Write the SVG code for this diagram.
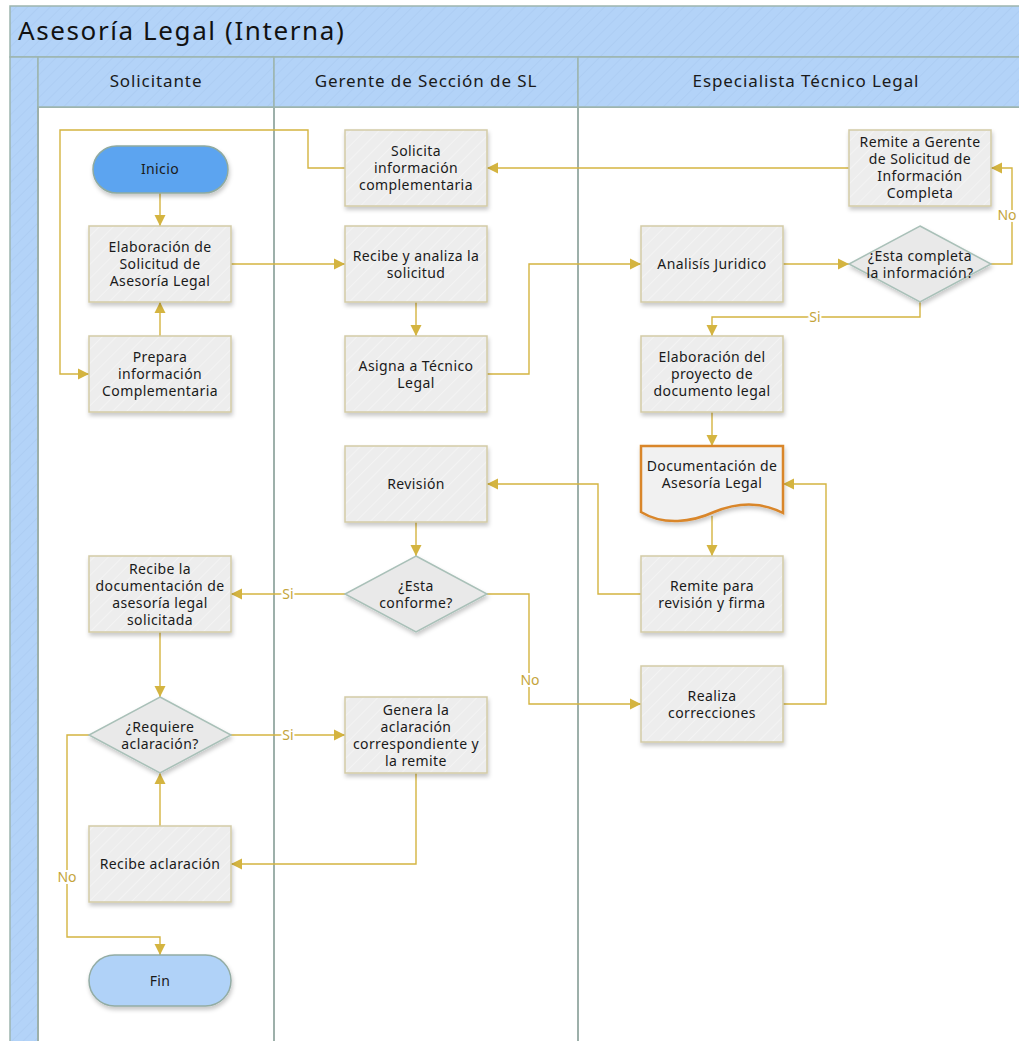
<svg xmlns="http://www.w3.org/2000/svg" width="1019" height="1041" viewBox="0 0 1019 1041">
<style>
.hdr{fill:url(#stripe);stroke:#9DB5AE;stroke-width:1.5}
.lane{fill:#FFFFFF;stroke:#9DB0AA;stroke-width:2}
.box{fill:url(#boxfill);stroke:#D3CBA6;stroke-width:1.5;filter:url(#sh)}
.dia{fill:#E9E9E9;stroke:#A9C0B8;stroke-width:1.5;filter:url(#sh)}
.t{font-family:"Noto Sans","Open Sans",sans-serif;font-size:14px;letter-spacing:0.4px;fill:#1A1A1A;text-anchor:middle}
.ht{font-family:"Noto Sans","Open Sans",sans-serif;font-size:17px;letter-spacing:0.9px;fill:#1A1A1A;text-anchor:middle}
.ttl{font-family:"Noto Sans","Open Sans",sans-serif;font-size:26px;letter-spacing:1.6px;fill:#111}
.ca{fill:none;stroke:#D4B440;stroke-width:1.4;marker-end:url(#ah)}
.lb{font-family:"Noto Sans","Open Sans",sans-serif;font-size:14px;fill:#C4A43A;text-anchor:middle;stroke:#FFFFFF;stroke-width:4px;paint-order:stroke}
</style>
<defs>
<pattern id="stripe" width="8" height="8" patternUnits="userSpaceOnUse" patternTransform="rotate(45)">
<rect width="8" height="8" fill="#B3D3F8"/>
<line x1="0" y1="0" x2="0" y2="8" stroke="#ABCCF2" stroke-width="1.5"/>
</pattern>
<pattern id="boxfill" width="10" height="10" patternUnits="userSpaceOnUse" patternTransform="rotate(45)">
<rect width="10" height="10" fill="#EDEDED"/>
<line x1="0" y1="0" x2="0" y2="10" stroke="#F3F3F3" stroke-width="2"/>
</pattern>
<filter id="sh" x="-10%" y="-10%" width="130%" height="140%">
<feDropShadow dx="1" dy="3" stdDeviation="2" flood-color="#000" flood-opacity="0.22"/>
</filter>
<marker id="ah" markerWidth="12" markerHeight="12" refX="11" refY="6" orient="auto" markerUnits="userSpaceOnUse">
<path d="M0,0.5 L11,6 L0,11.5 Z" fill="#D4B440"/>
</marker>
</defs>
<rect width="1019" height="1041" fill="#FFFFFF"/>
<g id="pool">
<rect class="hdr" x="10" y="6" width="1015" height="51"/>
<text class="ttl" x="18" y="40">Asesoría Legal (Interna)</text>
<rect class="hdr" x="10" y="57" width="28" height="990"/>
<rect class="lane" x="38" y="107" width="236" height="940"/>
<rect class="lane" x="274" y="107" width="304" height="940"/>
<rect class="lane" x="578" y="107" width="450" height="940"/>
<rect class="hdr" x="38" y="57" width="236" height="50"/>
<rect class="hdr" x="274" y="57" width="304" height="50"/>
<rect class="hdr" x="578" y="57" width="450" height="50"/>
<text class="ht" x="156" y="87">Solicitante</text>
<text class="ht" x="426" y="87">Gerente de Sección de SL</text>
<text class="ht" x="806" y="87">Especialista Técnico Legal</text>
</g>
<g id="connectors">
<path class="ca" d="M160,193 V226"/>
<path class="ca" d="M160,336 V302"/>
<path class="ca" d="M231,264 H345"/>
<path class="ca" d="M416,302 V336"/>
<path class="ca" d="M487,374 H529 V264 H641"/>
<path class="ca" d="M783,264 H849"/>
<path class="ca" d="M991,264 H1012 V168 H991"/>
<path class="ca" d="M920,302 V317 H712 V336"/>
<path class="ca" d="M849,168 H487"/>
<path class="ca" d="M345,168 H308 V130 H60 V374 H89"/>
<path class="ca" d="M712,412 V446"/>
<path class="ca" d="M712,516 V556"/>
<path class="ca" d="M641,594 H598 V484 H487"/>
<path class="ca" d="M416,522 V556"/>
<path class="ca" d="M345,594 H231"/>
<path class="ca" d="M487,594 H529 V704 H641"/>
<path class="ca" d="M783,704 H826 V484 H783"/>
<path class="ca" d="M160,632 V697"/>
<path class="ca" d="M231,735 H345"/>
<path class="ca" d="M416,773 V864 H231"/>
<path class="ca" d="M160,826 V773"/>
<path class="ca" d="M89,735 H67 V937 H160 V955"/>
<text class="lb" x="1007" y="220">No</text>
<text class="lb" x="815" y="322">Si</text>
<text class="lb" x="288" y="599">Si</text>
<text class="lb" x="530" y="685">No</text>
<text class="lb" x="288" y="740">Si</text>
<text class="lb" x="67" y="882">No</text>
</g>
<g id="inicio">
<rect x="93" y="146" width="135" height="47" rx="23.5" fill="#5CA4F0" stroke="#8FAAA0" stroke-width="1.5" filter="url(#sh)"/>
<text class="t" x="160" y="174">Inicio</text>
</g>
<g id="elaboracion-solicitud">
<rect class="box" x="89" y="226" width="142" height="76"/>
<text class="t" x="160" y="252">Elaboración de</text>
<text class="t" x="160" y="269">Solicitud de</text>
<text class="t" x="160" y="286">Asesoría Legal</text>
</g>
<g id="prepara-informacion">
<rect class="box" x="89" y="336" width="142" height="76"/>
<text class="t" x="160" y="362">Prepara</text>
<text class="t" x="160" y="379">información</text>
<text class="t" x="160" y="396">Complementaria</text>
</g>
<g id="solicita-informacion">
<rect class="box" x="345" y="130" width="142" height="76"/>
<text class="t" x="416" y="156">Solicita</text>
<text class="t" x="416" y="173">información</text>
<text class="t" x="416" y="190">complementaria</text>
</g>
<g id="recibe-analiza">
<rect class="box" x="345" y="226" width="142" height="76"/>
<text class="t" x="416" y="260.5">Recibe y analiza la</text>
<text class="t" x="416" y="277.5">solicitud</text>
</g>
<g id="asigna-tecnico">
<rect class="box" x="345" y="336" width="142" height="76"/>
<text class="t" x="416" y="370.5">Asigna a Técnico</text>
<text class="t" x="416" y="387.5">Legal</text>
</g>
<g id="remite-gerente">
<rect class="box" x="849" y="130" width="142" height="76"/>
<text class="t" x="920" y="147">Remite a Gerente</text>
<text class="t" x="920" y="164">de Solicitud de</text>
<text class="t" x="920" y="181">Información</text>
<text class="t" x="920" y="198">Completa</text>
</g>
<g id="analisis-juridico">
<rect class="box" x="641" y="226" width="142" height="76"/>
<text class="t" x="712" y="269">Analisís Juridico</text>
</g>
<g id="esta-completa">
<path class="dia" d="M920,226 L991,264 L920,302 L849,264 Z"/>
<text class="t" x="920" y="260.5">¿Esta completa</text>
<text class="t" x="920" y="277.5">la información?</text>
</g>
<g id="elaboracion-proyecto">
<rect class="box" x="641" y="336" width="142" height="76"/>
<text class="t" x="712" y="362">Elaboración del</text>
<text class="t" x="712" y="379">proyecto de</text>
<text class="t" x="712" y="396">documento legal</text>
</g>
<g id="documentacion">
<path d="M641,446 H783 V513 C762,502 738,502 714,512 C692,522 664,526 641,512 Z" fill="#F1F1F1" stroke="#D9862A" stroke-width="2.5" filter="url(#sh)"/>
<text class="t" x="712" y="471">Documentación de</text>
<text class="t" x="712" y="488">Asesoría Legal</text>
</g>
<g id="remite-revision">
<rect class="box" x="641" y="556" width="142" height="76"/>
<text class="t" x="712" y="590.5">Remite para</text>
<text class="t" x="712" y="607.5">revisión y firma</text>
</g>
<g id="realiza-correcciones">
<rect class="box" x="641" y="666" width="142" height="76"/>
<text class="t" x="712" y="700.5">Realiza</text>
<text class="t" x="712" y="717.5">correcciones</text>
</g>
<g id="revision">
<rect class="box" x="345" y="446" width="142" height="76"/>
<text class="t" x="416" y="489">Revisión</text>
</g>
<g id="esta-conforme">
<path class="dia" d="M416,556 L487,594 L416,632 L345,594 Z"/>
<text class="t" x="416" y="590.5">¿Esta</text>
<text class="t" x="416" y="607.5">conforme?</text>
</g>
<g id="genera-aclaracion">
<rect class="box" x="345" y="697" width="142" height="76"/>
<text class="t" x="416" y="714.5">Genera la</text>
<text class="t" x="416" y="731.5">aclaración</text>
<text class="t" x="416" y="748.5">correspondiente y</text>
<text class="t" x="416" y="765.5">la remite</text>
</g>
<g id="recibe-documentacion">
<rect class="box" x="89" y="556" width="142" height="76"/>
<text class="t" x="160" y="573.5">Recibe la</text>
<text class="t" x="160" y="590.5">documentación de</text>
<text class="t" x="160" y="607.5">asesoría legal</text>
<text class="t" x="160" y="624.5">solicitada</text>
</g>
<g id="requiere-aclaracion">
<path class="dia" d="M160,697 L231,735 L160,773 L89,735 Z"/>
<text class="t" x="160" y="731.5">¿Requiere</text>
<text class="t" x="160" y="748.5">aclaración?</text>
</g>
<g id="recibe-aclaracion">
<rect class="box" x="89" y="826" width="142" height="76"/>
<text class="t" x="160" y="869">Recibe aclaración</text>
</g>
<g id="fin">
<rect x="89" y="955" width="142" height="51" rx="25.5" fill="#B0D2F8" stroke="#93ACA4" stroke-width="1.5" filter="url(#sh)"/>
<text class="t" x="160" y="986">Fin</text>
</g>
</svg>
